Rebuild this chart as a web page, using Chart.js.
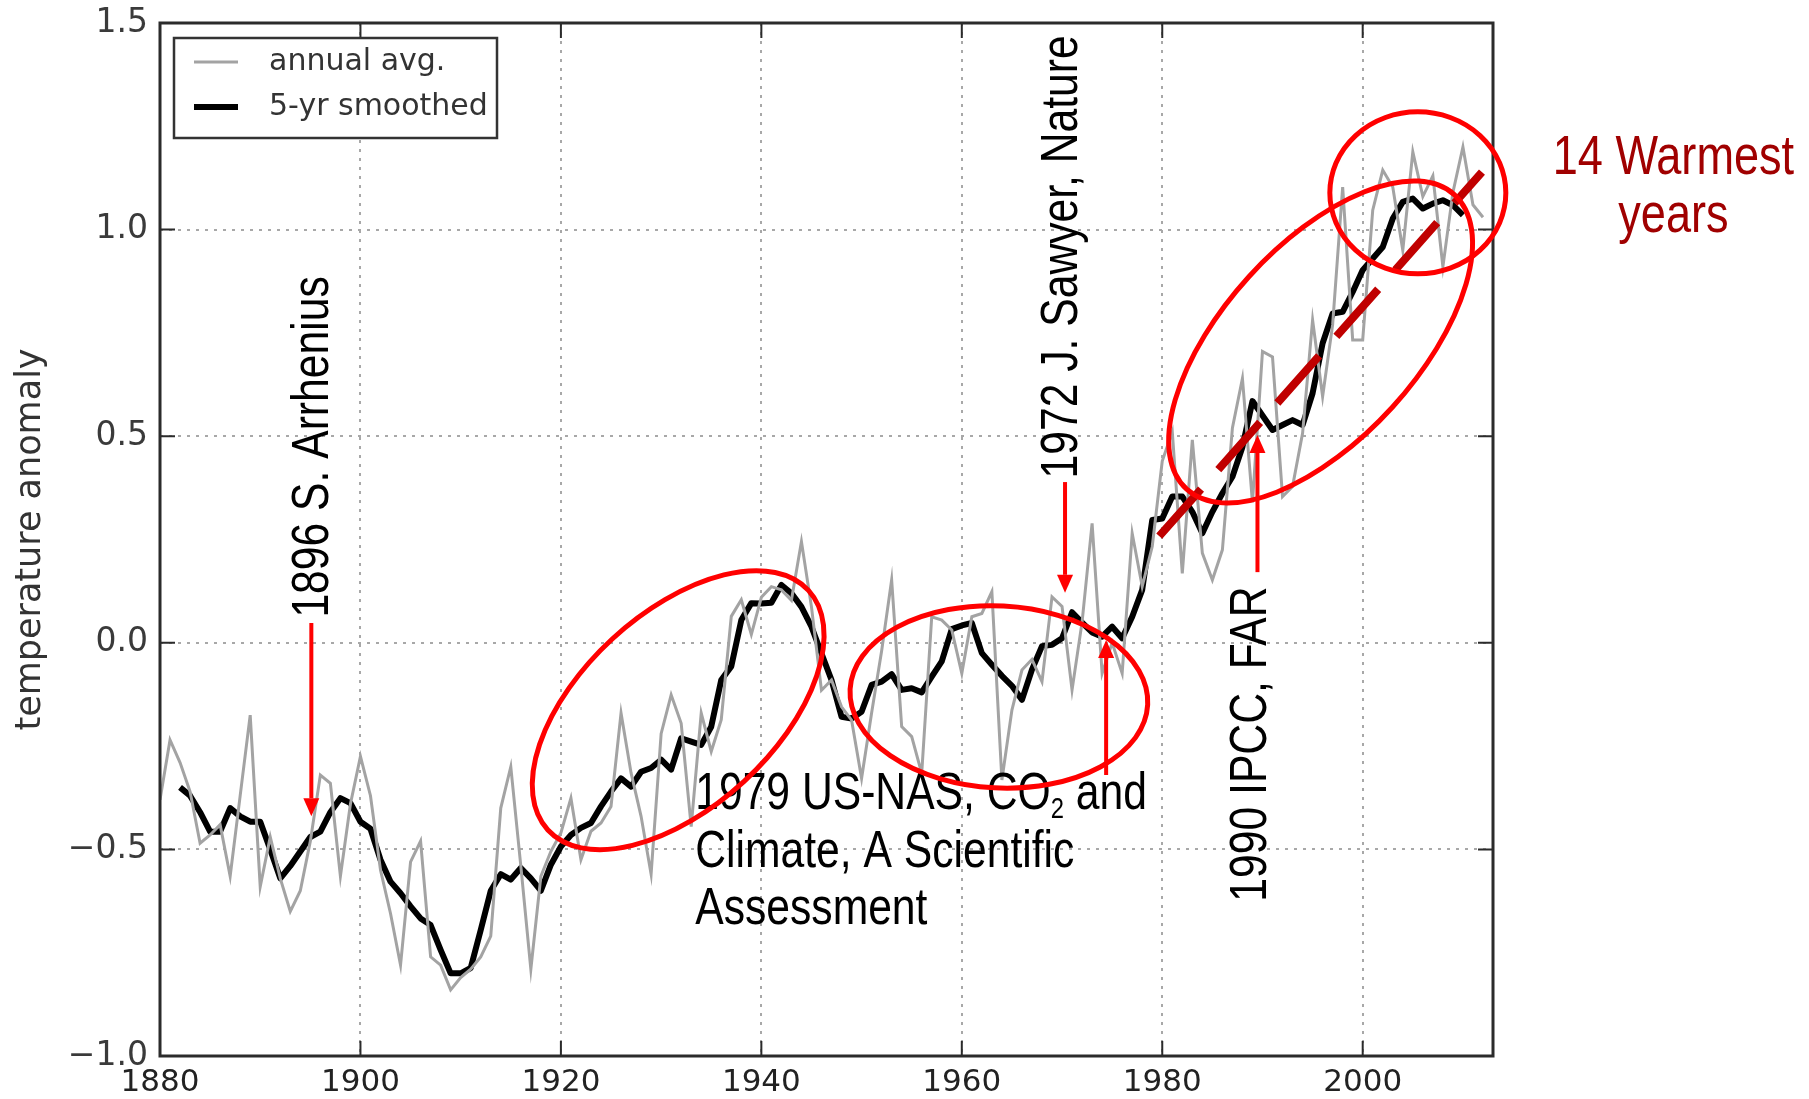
<!DOCTYPE html>
<html>
<head>
<meta charset="utf-8">
<title>Temperature anomaly 1880-2012</title>
<script src="https://cdn.jsdelivr.net/npm/chart.js@4.4.1/dist/chart.umd.min.js"></script>
<style>
    html, body { margin: 0; padding: 0; background: #fff; }
    #wrap { width: 1809px; height: 1099px; }
</style>
</head>
<body>
<div id="wrap"><canvas id="anomalyChart" width="1809" height="1099"></canvas></div>
<script>
// ============================================================================
// TEMPERATURE ANOMALY CHART (annual avg. + 5-yr smoothed, with annotations)
// ============================================================================

const FIRST_YEAR = 1880;         // first annual value
const FIRST_SMOOTH_YEAR = 1882;  // running mean starts two years in

// Annual average anomaly, 1880-2012
const annualAvg = [
    -0.38, -0.235, -0.29, -0.36, -0.485, -0.465, -0.44, -0.565, -0.37, -0.175,   // 1880s
    -0.59, -0.47, -0.57, -0.65, -0.60, -0.48, -0.32, -0.34, -0.565, -0.39,       // 1890s
    -0.275, -0.37, -0.55, -0.655, -0.78, -0.53, -0.48, -0.76, -0.78, -0.84,      // 1900s
    -0.81, -0.79, -0.76, -0.71, -0.40, -0.30, -0.54, -0.79, -0.565, -0.505,      // 1910s
    -0.46, -0.376, -0.525, -0.456, -0.436, -0.396, -0.17, -0.315, -0.42, -0.56,  // 1920s
    -0.22, -0.126, -0.195, -0.445, -0.17, -0.263, -0.186, 0.064, 0.104, 0.02,    // 1930s
    0.11, 0.136, 0.128, 0.103, 0.245, 0.087, -0.115, -0.09, -0.155, -0.187,      // 1940s
    -0.328, -0.17, -0.02, 0.152, -0.203, -0.227, -0.316, 0.063, 0.055, 0.031,    // 1950s
    -0.074, 0.063, 0.071, 0.124, -0.332, -0.163, -0.066, -0.04, -0.094, 0.111,   // 1960s
    0.088, -0.114, 0.05, 0.289, -0.074, 0.0, -0.074, 0.265, 0.136, 0.233,        // 1970s
    0.44, 0.511, 0.168, 0.491, 0.217, 0.152, 0.225, 0.52, 0.64, 0.34,            // 1980s
    0.705, 0.692, 0.354, 0.378, 0.507, 0.781, 0.596, 0.77, 1.103, 0.733,         // 1990s
    0.733, 1.047, 1.144, 1.103, 0.95, 1.188, 1.08, 1.13, 0.91, 1.09,             // 2000s
    1.2, 1.06, 1.03                                                              // 2010-2012
];

// 5-yr smoothed anomaly, 1882-2010
const smoothed5yr = [
    -0.35, -0.37, -0.41, -0.457, -0.457, -0.40, -0.42, -0.433,                   // 1882-1889
    -0.433, -0.50, -0.57, -0.54, -0.505, -0.47, -0.457, -0.41, -0.376, -0.388,   // 1890s
    -0.433, -0.45, -0.525, -0.578, -0.606, -0.638, -0.667, -0.683, -0.743, -0.80, // 1900s
    -0.80, -0.787, -0.695, -0.60, -0.56, -0.573, -0.545, -0.57, -0.60, -0.537,   // 1910s
    -0.493, -0.465, -0.448, -0.436, -0.396, -0.36, -0.328, -0.348, -0.312, -0.303, // 1920s
    -0.283, -0.307, -0.231, -0.239, -0.247, -0.203, -0.09, -0.057, 0.055, 0.096, // 1930s
    0.095, 0.097, 0.14, 0.12, 0.087, 0.039, -0.026, -0.09, -0.179, -0.183,       // 1940s
    -0.167, -0.102, -0.094, -0.076, -0.114, -0.11, -0.12, -0.082, -0.045, 0.033, // 1950s
    0.042, 0.048, -0.025, -0.053, -0.08, -0.104, -0.138, -0.065, -0.008, -0.005, // 1960s
    0.011, 0.074, 0.049, 0.025, 0.015, 0.039, 0.011, 0.063, 0.128, 0.297,        // 1970s
    0.301, 0.354, 0.354, 0.317, 0.265, 0.317, 0.362, 0.402, 0.474, 0.585,        // 1980s
    0.55, 0.515, 0.527, 0.539, 0.527, 0.604, 0.725, 0.797, 0.801, 0.849,         // 1990s
    0.902, 0.93, 0.958, 1.027, 1.067, 1.075, 1.051, 1.063, 1.071, 1.059,         // 2000s
    1.035                                                                        // 2010
];

const seriesLabels = ['annual avg.', '5-yr smoothed'];
const xTickYears = [1880, 1900, 1920, 1940, 1960, 1980, 2000];
const yTickValues = [-1.0, -0.5, 0.0, 0.5, 1.0, 1.5];
const X_MIN = 1880;
const X_MAX = 2013;
const Y_MIN = -1.0;
const Y_MAX = 1.5;

// ----------------------------------------------------------------------------
// Annotations (anchored in data coordinates, sizes in px)
// ----------------------------------------------------------------------------
const RED = '#ff0000';
const DARK_RED = '#c00000';
const NOTE_FONT = "'Liberation Sans', Arial, sans-serif";
const NOTE_SIZE = 52;
const NARROW = 0.82; // horizontal squeeze, the slide font is a condensed face

const verticalNotes = [
    { text: '1896 S. Arrhenius', year: 1895.3, value: 0.474 },
    { text: '1972 J. Sawyer, Nature', year: 1970.1, value: 0.934 },
    { text: '1990 IPCC, FAR', year: 1988.9, value: -0.245 }
];

const nasNote = {
    year: 1933.4,
    lines: [['1979 US-NAS, CO', '2', ' and'], ['Climate, A Scientific'], ['Assessment']],
    values: [-0.368, -0.509, -0.647]
};

const warmestNote = {
    lines: ['14 Warmest', 'years'],
    year: 2031.0,
    values: [1.171, 1.03],
    color: '#a00000',
    size: 55
};

const arrows = [
    { year: 1895.1, from: 0.048, to: -0.42 },
    { year: 1970.3, from: 0.389, to: 0.121 },
    { year: 1974.4, from: -0.32, to: 0.007 },
    { year: 1989.5, from: 0.171, to: 0.503 }
];

// rx/ry in px, tilt in degrees (positive = major axis rising to the right)
const ellipses = [
    { year: 1931.7, value: -0.163, rx: 177, ry: 97, tilt: 42.6 },
    { year: 1963.7, value: -0.131, rx: 149, ry: 91, tilt: -3 },
    { year: 1995.8, value: 0.728, rx: 199, ry: 97, tilt: 47.7 },
    { year: 2005.5, value: 1.089, rx: 88, ry: 81, tilt: 0 }
];

const trendLine = { from: [1979.7, 0.258], to: [2011.9, 1.139] };

/**
 * Convert a (year, value) pair to canvas pixels through the chart scales
 */
function toPx(chart, year, value) {
    return {
        x: chart.scales.x.getPixelForValue(year),
        y: chart.scales.y.getPixelForValue(value)
    };
}

function drawNarrowText(ctx, text, x, y, rotation, color, align, size) {
    ctx.save();
    ctx.translate(x, y);
    ctx.rotate(rotation);
    ctx.scale(NARROW, 1);
    ctx.font = `${size || NOTE_SIZE}px ${NOTE_FONT}`;
    ctx.fillStyle = color;
    ctx.textAlign = align;
    ctx.textBaseline = 'middle';
    ctx.fillText(text, 0, 0);
    ctx.restore();
}

function drawArrow(ctx, x, yTail, yTip) {
    const dir = Math.sign(yTip - yTail);
    const headLen = 18;
    const headHalf = 8;
    ctx.save();
    ctx.strokeStyle = RED;
    ctx.fillStyle = RED;
    ctx.lineWidth = 4;
    ctx.beginPath();
    ctx.moveTo(x, yTail);
    ctx.lineTo(x, yTip - dir * headLen);
    ctx.stroke();
    ctx.beginPath();
    ctx.moveTo(x - headHalf, yTip - dir * headLen);
    ctx.lineTo(x + headHalf, yTip - dir * headLen);
    ctx.lineTo(x, yTip);
    ctx.closePath();
    ctx.fill();
    ctx.restore();
}

// Keep the plot box where the padding puts it (no extra room for edge labels)
function pinScale(scale, key, size) {
    scale[key] = size;
    scale.paddingTop = 0;
    scale.paddingBottom = 0;
    scale.paddingLeft = 0;
    scale.paddingRight = 0;
}

// Frame with inward ticks on all four sides (matplotlib look)
const framePlugin = {
    id: 'frame',
    afterDatasetsDraw(chart) {
        const { ctx, chartArea: a, scales } = chart;
        const len = 15;
        ctx.save();
        ctx.strokeStyle = '#2b2b2b';
        ctx.lineWidth = 2;
        ctx.beginPath();
        xTickYears.forEach(yr => {
            const x = scales.x.getPixelForValue(yr);
            ctx.moveTo(x, a.bottom); ctx.lineTo(x, a.bottom - len);
            ctx.moveTo(x, a.top); ctx.lineTo(x, a.top + len);
        });
        yTickValues.forEach(v => {
            const y = scales.y.getPixelForValue(v);
            ctx.moveTo(a.left, y); ctx.lineTo(a.left + len, y);
            ctx.moveTo(a.right, y); ctx.lineTo(a.right - len, y);
        });
        ctx.stroke();
        ctx.lineWidth = 3;
        ctx.strokeRect(a.left, a.top, a.right - a.left, a.bottom - a.top);
        ctx.restore();
    }
};

// Boxed legend in the upper-left corner of the plot
const legendPlugin = {
    id: 'boxLegend',
    afterDraw(chart) {
        const { ctx, chartArea: a } = chart;
        const left = a.left + 14, top = a.top + 15, w = 323, h = 100;
        ctx.save();
        ctx.fillStyle = '#fff';
        ctx.fillRect(left, top, w, h);
        ctx.strokeStyle = '#333';
        ctx.lineWidth = 2.5;
        ctx.strokeRect(left, top, w, h);
        chart.data.datasets.forEach((ds, i) => {
            const y = top + 24 + i * 45;
            ctx.strokeStyle = ds.borderColor;
            ctx.lineWidth = ds.borderWidth;
            ctx.beginPath();
            ctx.moveTo(left + 20, y);
            ctx.lineTo(left + 64, y);
            ctx.stroke();
            ctx.fillStyle = '#333';
            ctx.font = "30px 'DejaVu Sans', sans-serif";
            ctx.textBaseline = 'middle';
            ctx.textAlign = 'left';
            ctx.fillText(ds.label, left + 95, y);
        });
        ctx.restore();
    }
};

// Red circles, arrows, dashed trend and the slide texts
const annotationPlugin = {
    id: 'slideNotes',
    afterDraw(chart) {
        const { ctx } = chart;

        verticalNotes.forEach(n => {
            const p = toPx(chart, n.year, n.value);
            drawNarrowText(ctx, n.text, p.x, p.y, -Math.PI / 2, '#000', 'center');
        });

        // multi-line note, first line carries the CO2 subscript
        nasNote.lines.forEach((parts, i) => {
            const p = toPx(chart, nasNote.year, nasNote.values[i]);
            ctx.save();
            ctx.translate(p.x, p.y);
            ctx.scale(NARROW, 1);
            ctx.fillStyle = '#000';
            ctx.textAlign = 'left';
            ctx.textBaseline = 'middle';
            let x = 0;
            parts.forEach((part, j) => {
                const isSub = parts.length === 3 && j === 1;
                ctx.font = `${isSub ? Math.round(NOTE_SIZE * 0.55) : NOTE_SIZE}px ${NOTE_FONT}`;
                ctx.fillText(part, x, isSub ? NOTE_SIZE * 0.3 : 0);
                x += ctx.measureText(part).width;
            });
            ctx.restore();
        });

        warmestNote.lines.forEach((line, i) => {
            const p = toPx(chart, warmestNote.year, warmestNote.values[i]);
            drawNarrowText(ctx, line, p.x, p.y, 0, warmestNote.color, 'center', warmestNote.size);
        });

        arrows.forEach(ar => {
            const tail = toPx(chart, ar.year, ar.from);
            const tip = toPx(chart, ar.year, ar.to);
            drawArrow(ctx, tail.x, tail.y, tip.y);
        });

        // dashed trend through the recent warming
        const t0 = toPx(chart, trendLine.from[0], trendLine.from[1]);
        const t1 = toPx(chart, trendLine.to[0], trendLine.to[1]);
        ctx.save();
        ctx.strokeStyle = DARK_RED;
        ctx.lineWidth = 8;
        ctx.setLineDash([63, 26]);
        ctx.beginPath();
        ctx.moveTo(t0.x, t0.y);
        ctx.lineTo(t1.x, t1.y);
        ctx.stroke();
        ctx.restore();

        ctx.save();
        ctx.strokeStyle = RED;
        ctx.lineWidth = 5;
        ellipses.forEach(e => {
            const c = toPx(chart, e.year, e.value);
            ctx.beginPath();
            ctx.ellipse(c.x, c.y, e.rx, e.ry, -e.tilt * Math.PI / 180, 0, Math.PI * 2);
            ctx.stroke();
        });
        ctx.restore();
    }
};

const GRID_COLOR = '#a8a8a8';

function formatAnomaly(v) {
    return (v < 0 ? '\u2212' : '') + Math.abs(v).toFixed(1);
}

const chartData = {
    datasets: [
        {
            label: seriesLabels[0],
            data: annualAvg.map((v, i) => ({ x: FIRST_YEAR + i, y: v })),
            borderColor: '#a3a3a3',
            borderWidth: 3,
            pointRadius: 0,
            tension: 0,
            fill: false
        },
        {
            label: seriesLabels[1],
            data: smoothed5yr.map((v, i) => ({ x: FIRST_SMOOTH_YEAR + i, y: v })),
            borderColor: '#000000',
            borderWidth: 6,
            pointRadius: 0,
            tension: 0,
            fill: false,
            borderJoinStyle: 'round'
        }
    ]
};

const options = {
    responsive: false,
    animation: false,
    layout: {
        padding: { left: 0, top: 23, right: 316, bottom: 0 }
    },
    plugins: {
        legend: { display: false },
        tooltip: { enabled: false }
    },
    scales: {
        x: {
            type: 'linear',
            min: X_MIN,
            max: X_MAX,
            afterBuildTicks: scale => { scale.ticks = xTickYears.map(v => ({ value: v })); },
            afterFit: scale => pinScale(scale, 'height', 43),
            grid: { color: GRID_COLOR, lineWidth: 2, drawTicks: false },
            border: { display: false, dash: [3, 6] },
            ticks: {
                color: '#222',
                padding: 8,
                maxRotation: 0,
                font: { family: "'DejaVu Sans', sans-serif", size: 31 },
                callback: value => String(value)
            }
        },
        y: {
            type: 'linear',
            min: Y_MIN,
            max: Y_MAX,
            afterBuildTicks: scale => { scale.ticks = yTickValues.map(v => ({ value: v })); },
            afterFit: scale => pinScale(scale, 'width', 160),
            grid: { color: GRID_COLOR, lineWidth: 2, drawTicks: false },
            border: { display: false, dash: [3, 6] },
            ticks: {
                color: '#3a3a3a',
                padding: 12,
                font: { family: "'DejaVu Sans', sans-serif", size: 33 },
                callback: value => formatAnomaly(value)
            },
            title: {
                display: true,
                text: 'temperature anomaly',
                color: '#333',
                padding: { top: 10, bottom: 0 },
                font: { family: "'DejaVu Sans', sans-serif", size: 35 }
            }
        }
    }
};

const ctx = document.getElementById('anomalyChart').getContext('2d');
const chart = new Chart(ctx, {
    type: 'line',
    data: chartData,
    options: options,
    plugins: [framePlugin, legendPlugin, annotationPlugin]
});
</script>
</body>
</html>
